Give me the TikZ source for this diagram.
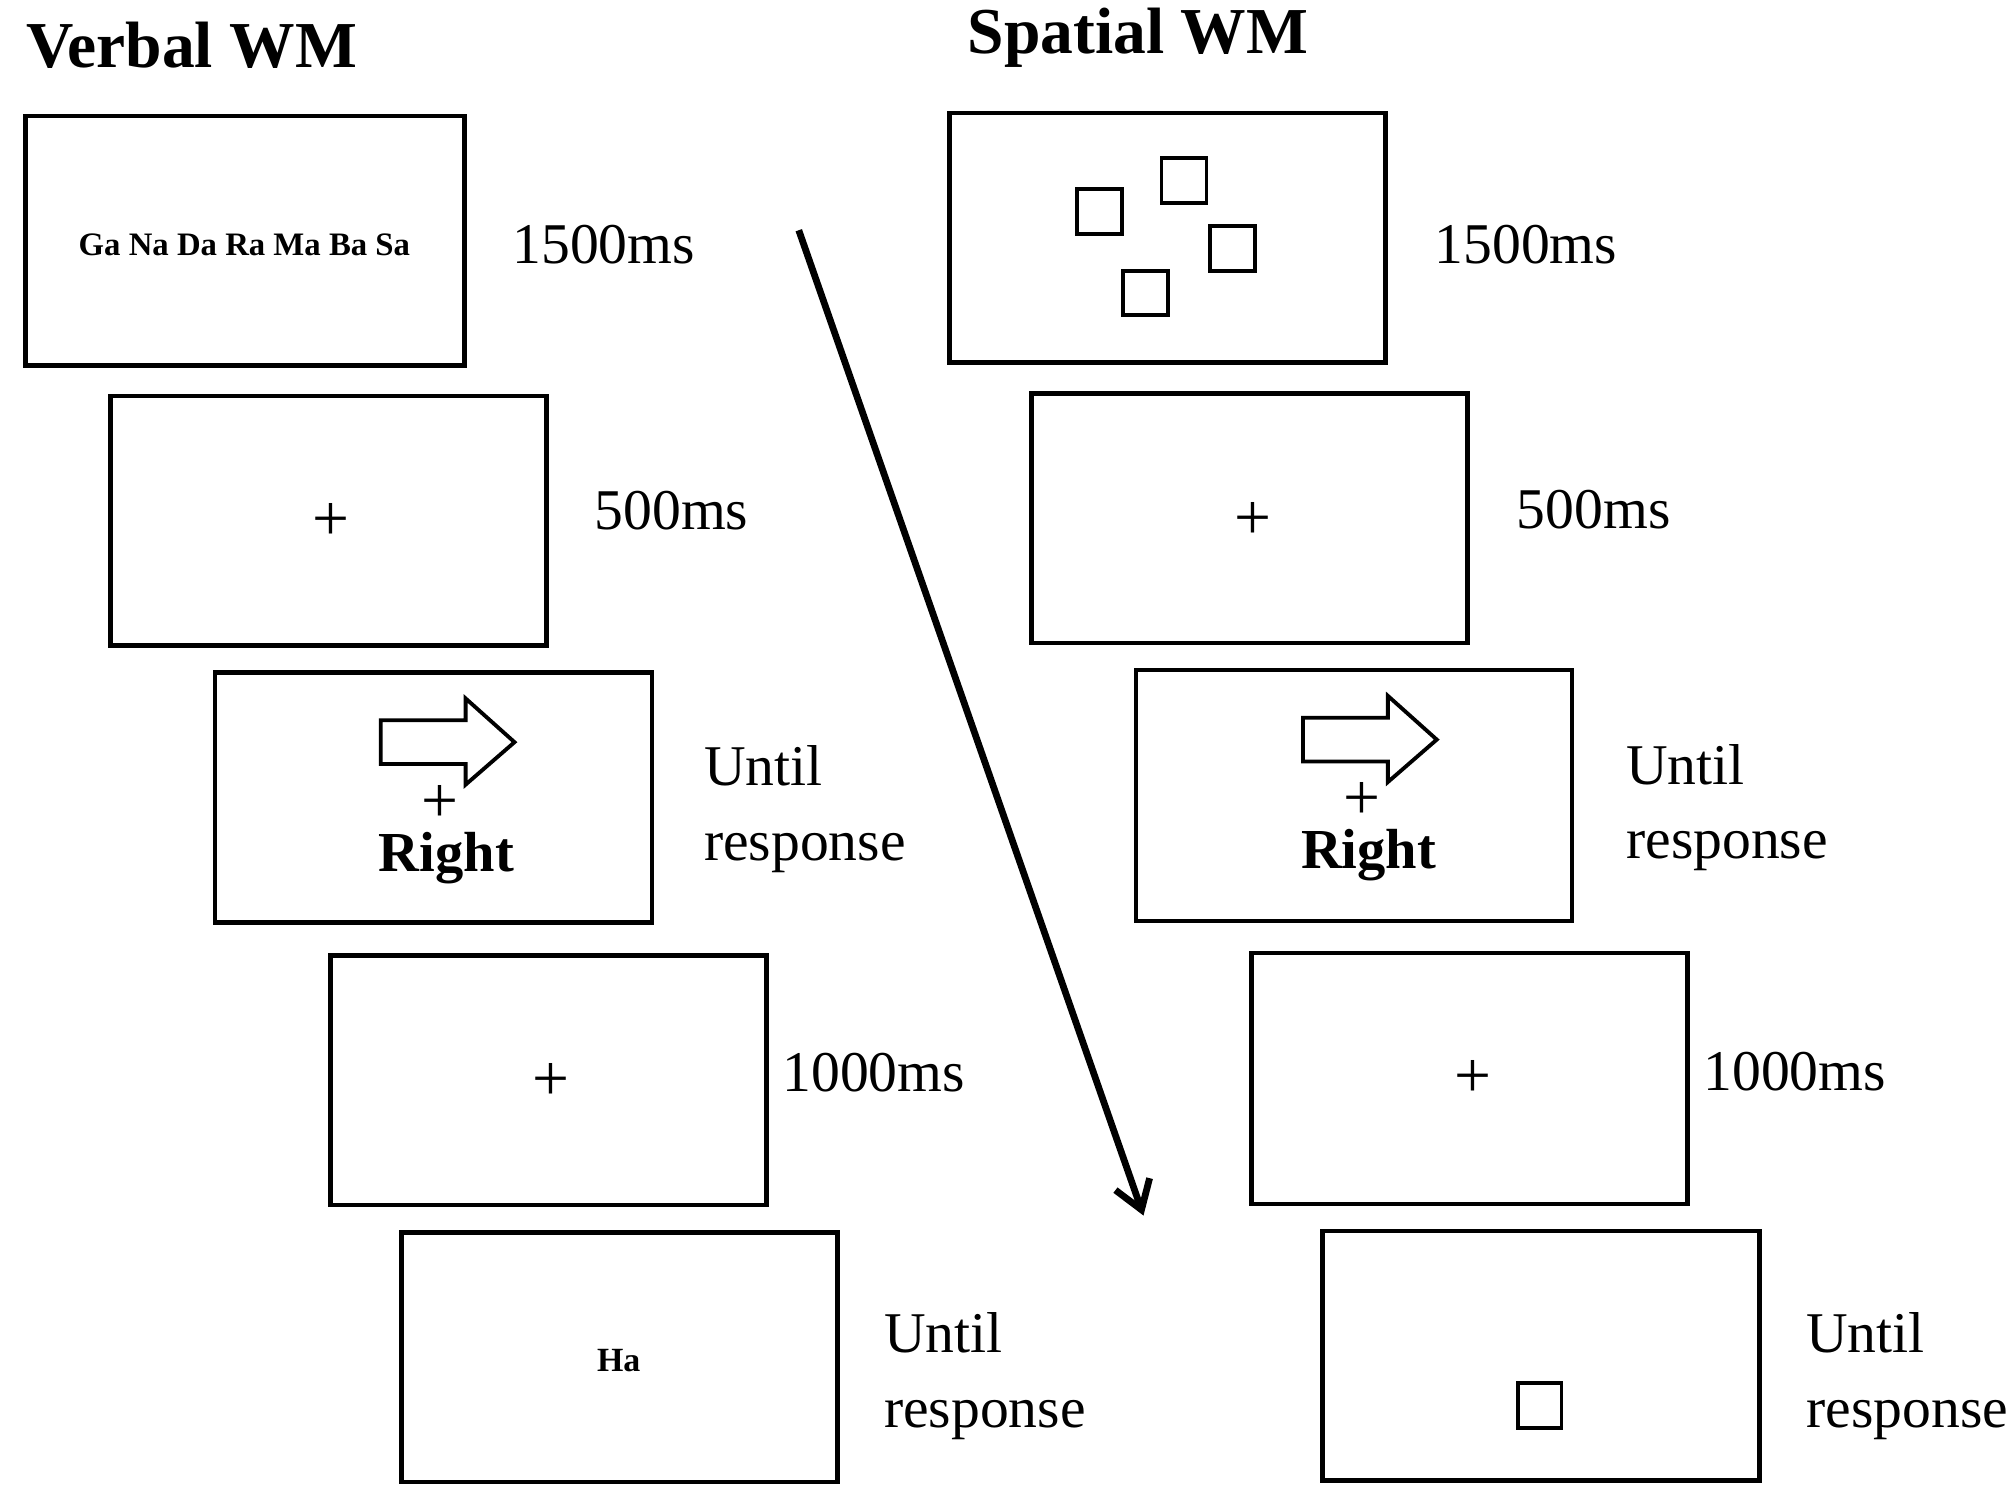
\documentclass[tikz,border=0pt]{standalone}
\usepackage{fontspec}
\usetikzlibrary{arrows.meta}
\setmainfont{Liberation Serif}
\begin{document}
\begin{tikzpicture}[x=0.02cm,y=-0.02cm,
  scr/.style={draw,line width=2pt},
  lab/.style={anchor=west,font=\fontsize{25.5}{33}\selectfont,align=left,inner sep=0},
  ttl/.style={anchor=west,font=\fontsize{29}{34}\selectfont\bfseries,inner sep=0},
  plus/.style={font=\fontsize{29}{29}\selectfont,inner sep=0},
  sq/.style={draw,line width=1.7pt}]
\useasboundingbox (0,0) rectangle (1565,1162);
\node[ttl] (t1) at (20,35) {Verbal WM};
\node[ttl] (t2) at (752,29) {Spatial WM};
% left column
\draw[scr] (20,90) rectangle (361,284);
\node[font=\fontsize{14.5}{15}\selectfont\bfseries] (syl) at (190,190) {Ga Na Da Ra Ma Ba Sa};
\draw[scr] (86,308) rectangle (425,502);
\node[plus] (p1) at (257,406) {+};
\draw[scr] (167,523) rectangle (507,717);
\draw[line width=1.7pt] (296,560) -- (362,560) -- (362,543) -- (400,577) -- (362,610) -- (362,594) -- (296,594) -- cycle;
\node[plus] (p2) at (342,625) {+};
\node[font=\fontsize{25}{25}\selectfont\bfseries] (r1) at (347,667) {Right};
\draw[scr] (257,743) rectangle (596,937);
\node[plus] (p3) at (428,841) {+};
\draw[scr] (312,958) rectangle (651,1152);
\node[font=\fontsize{15}{15}\selectfont\bfseries] (ha) at (481,1058) {Ha};
\node[lab] (l1) at (398,190) {1500ms};
\node[lab] (l2) at (462,397) {500ms};
\node[lab] (l3) at (547,629) {Until\\response};
\node[lab] (l4) at (608,834) {1000ms};
\node[lab] (l5) at (687,1070) {Until\\response};
% right column
\draw[scr] (738,88) rectangle (1077,282);
\draw[sq] (837,147) rectangle (872,182);
\draw[sq] (903,123) rectangle (938,158);
\draw[sq] (941,176) rectangle (976,211);
\draw[sq] (873,211) rectangle (908,245);
\draw[scr] (802,306) rectangle (1141,500);
\node[plus] (p4) at (974,405) {+};
\draw[scr] (883,521) rectangle (1222,716);
\draw[line width=1.7pt] (1013,558) -- (1079,558) -- (1079,541) -- (1117,575) -- (1079,608) -- (1079,592) -- (1013,592) -- cycle;
\node[plus] (p5) at (1059,623) {+};
\node[font=\fontsize{25}{25}\selectfont\bfseries] (r2) at (1064,665) {Right};
\draw[scr] (973,741) rectangle (1312,936);
\node[plus] (p6) at (1145,839) {+};
\draw[scr] (1028,957) rectangle (1368,1151);
\draw[sq] (1180,1075) rectangle (1214,1110);
\node[lab] (l6) at (1115,190) {1500ms};
\node[lab] (l7) at (1179,396) {500ms};
\node[lab] (l8) at (1264,628) {Until\\response};
\node[lab] (l9) at (1324,833) {1000ms};
\node[lab] (l10) at (1404,1070) {Until\\response};
% time arrow
\coordinate (a0) at (621,179);
\coordinate (a1) at (889,945);
\draw[line width=3pt,-{Straight Barb[length=12pt,width=16pt]}] (a0) -- (a1);
\end{tikzpicture}
\end{document}
